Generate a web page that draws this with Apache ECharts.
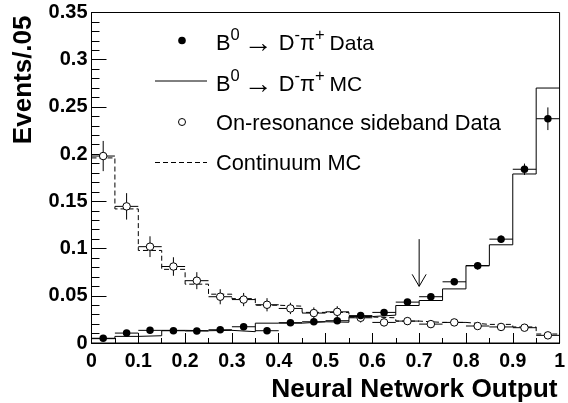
<!DOCTYPE html>
<html>
<head>
<meta charset="utf-8">
<title>Neural Network Output</title>
<script src="https://cdn.jsdelivr.net/npm/echarts@6/dist/echarts.min.js"></script>
<style>
html, body { margin: 0; padding: 0; background: #fff; }
#main { width: 568px; height: 403px; }
</style>
</head>
<body>
<div id="main"></div>
<script>
var binCenters = [0.025, 0.075, 0.125, 0.175, 0.225, 0.275, 0.325, 0.375, 0.425, 0.475, 0.525, 0.575, 0.625, 0.675, 0.725, 0.775, 0.825, 0.875, 0.925, 0.975];
var binEdges = [0, 0.05, 0.1, 0.15, 0.2, 0.25, 0.3, 0.35, 0.4, 0.45, 0.5, 0.55, 0.6, 0.65, 0.7, 0.75, 0.8, 0.85, 0.9, 0.95, 1];

var signalData = [0.005, 0.0105, 0.0134, 0.013, 0.0127, 0.014, 0.0172, 0.013, 0.0215, 0.0225, 0.0236, 0.029, 0.0324, 0.0433, 0.049, 0.0648, 0.0817, 0.11, 0.184, 0.2375];
var signalErr = [0.002, 0.002, 0.003, 0.002, 0.002, 0.002, 0.002, 0.002, 0.002, 0.002, 0.002, 0.002, 0.002, 0.003, 0.003, 0.003, 0.004, 0.004, 0.006, 0.012];
var signalMC = [0.0046, 0.007, 0.0077, 0.0134, 0.013, 0.0134, 0.012, 0.021, 0.021, 0.0225, 0.022, 0.028, 0.0295, 0.0397, 0.045, 0.0573, 0.082, 0.104, 0.179, 0.27];
var sidebandData = [0.198, 0.1447, 0.102, 0.081, 0.066, 0.049, 0.046, 0.0405, 0.0366, 0.0317, 0.033, 0.0267, 0.0218, 0.0232, 0.02, 0.0218, 0.018, 0.017, 0.0162, 0.0081];
var sidebandErr = [0.016, 0.014, 0.011, 0.0098, 0.009, 0.008, 0.007, 0.007, 0.006, 0.006, 0.006, 0.005, 0.004, 0.004, 0.004, 0.003, 0.003, 0.003, 0.003, 0.003];
var continuumMC = [0.196, 0.142, 0.098, 0.078, 0.0623, 0.0517, 0.047, 0.04, 0.039, 0.0324, 0.0324, 0.0275, 0.0267, 0.0232, 0.0218, 0.0218, 0.0197, 0.0197, 0.017, 0.0095];

var cutValue = 0.7;
var cutFrom = 0.11;
var cutTo = 0.06;
var binHalf = 0.025;

var fontName = '"Liberation Sans", Arial, sans-serif';

function histPoints(values) {
	var pts = [];
	for (var i = 0; i < binEdges.length; i++) {
		pts.push([binEdges[i], values[Math.min(i, values.length - 1)]]);
	}
	return pts;
}

function pairs(values) {
	return binCenters.map(function (x, i) { return [x, values[i]]; });
}

function errorRows(values, errs) {
	return binCenters.map(function (x, i) { return [x, values[i], errs[i]]; });
}

function renderError(params, api) {
	var x = api.value(0), y = api.value(1), e = api.value(2);
	var lineStyle = { stroke: '#000', lineWidth: 1, fill: null };
	var a = api.coord([x - binHalf, y]), b = api.coord([x + binHalf, y]);
	var c = api.coord([x, y - e]), d = api.coord([x, y + e]);
	return {
		type: 'group',
		children: [
			{ type: 'line', shape: { x1: a[0], y1: a[1], x2: b[0], y2: b[1] }, style: lineStyle },
			{ type: 'line', shape: { x1: c[0], y1: c[1], x2: d[0], y2: d[1] }, style: lineStyle }
		]
	};
}

function renderArrow(params, api) {
	var top = api.coord([api.value(0), api.value(1)]);
	var tip = api.coord([api.value(0), api.value(2)]);
	var lineStyle = { stroke: '#000', lineWidth: 1, fill: null };
	return {
		type: 'group',
		children: [
			{ type: 'line', shape: { x1: top[0], y1: top[1], x2: tip[0], y2: tip[1] }, style: lineStyle },
			{ type: 'polyline', shape: { points: [[tip[0] - 7, tip[1] - 12], tip, [tip[0] + 7, tip[1] - 12]] }, style: lineStyle }
		]
	};
}

var richStyles = {
	n: { fontFamily: fontName, fontSize: 21.8, color: '#000', verticalAlign: 'bottom', lineHeight: 30 },
	t: { fontFamily: fontName, fontSize: 21, color: '#000', verticalAlign: 'bottom', lineHeight: 30, padding: [0, 0, 0, 5] },
	sup: { fontFamily: fontName, fontSize: 16.5, color: '#000', verticalAlign: 'top', lineHeight: 22, padding: [2, 0, 0, 0] },
	arr: { fontFamily: fontName, fontSize: 29, color: '#000', verticalAlign: 'top', lineHeight: 26, padding: [4, 6, 0, 4] }
};

var decayData = '{n|B}{sup|0}{arr|\u2192}{n|D}{sup|-}{n|\u03c0}{sup|+}{t|Data}';
var decayMC = '{n|B}{sup|0}{arr|\u2192}{n|D}{sup|-}{n|\u03c0}{sup|+}{t|MC}';

function legendLabel(text, y) {
	return { type: 'text', left: 216, top: y, style: { text: text, rich: richStyles, fontFamily: fontName, fontSize: 21.8, fill: '#000' }, z: 20 };
}

var chart = echarts.init(document.getElementById('main'));
chart.setOption({
	animation: false,
	backgroundColor: '#fff',
	textStyle: { fontFamily: fontName },
	grid: { left: 91.5, right: 5.5, top: 12.5, bottom: 58.5, show: true, borderColor: '#000', borderWidth: 1, backgroundColor: 'transparent' },
	xAxis: {
		type: 'value', min: 0, max: 1, interval: 0.1, minorTick: { show: true, splitNumber: 2, length: 5, lineStyle: { color: '#000' } },
		axisLine: { onZero: false, lineStyle: { color: '#000', width: 1 } },
		axisTick: { inside: true, length: 10, lineStyle: { color: '#000' } },
		splitLine: { show: false }, minorSplitLine: { show: false },
		axisLabel: { color: '#000', fontFamily: fontName, fontWeight: 'bold', fontSize: 19.5, margin: 9 },
		name: 'Neural Network Output', nameLocation: 'end', nameGap: -2,
		nameTextStyle: { fontFamily: fontName, fontWeight: 'bold', fontSize: 26.3, color: '#000', align: 'right', verticalAlign: 'top', padding: [34, 0, 0, 0] }
	},
	yAxis: {
		type: 'value', min: 0, max: 0.35, interval: 0.05, minorTick: { show: true, splitNumber: 5, length: 8, lineStyle: { color: '#000' } },
		axisLine: { onZero: false, lineStyle: { color: '#000', width: 1 } },
		axisTick: { inside: true, length: 15, lineStyle: { color: '#000' } },
		splitLine: { show: false }, minorSplitLine: { show: false },
		axisLabel: { color: '#000', fontFamily: fontName, fontWeight: 'bold', fontSize: 20, margin: 4 },
		name: 'Events/.05', nameLocation: 'end', nameRotate: 90, nameGap: -3,
		nameTextStyle: { fontFamily: fontName, fontWeight: 'bold', fontSize: 26, color: '#000', align: 'right', verticalAlign: 'bottom', padding: [0, 0, 55, 0] }
	},
	graphic: [
		{ type: 'circle', shape: { cx: 182, cy: 40.5, r: 3.8 }, style: { fill: '#000' }, z: 20 },
		{ type: 'line', shape: { x1: 155, y1: 81, x2: 207, y2: 81 }, style: { stroke: '#000', lineWidth: 1 }, z: 20 },
		{ type: 'circle', shape: { cx: 182, cy: 122, r: 3.5 }, style: { fill: '#fff', stroke: '#000', lineWidth: 1 }, z: 20 },
		{ type: 'line', shape: { x1: 155, y1: 162.5, x2: 207, y2: 162.5 }, style: { stroke: '#000', lineWidth: 1, lineDash: [5, 3] }, z: 20 },
		legendLabel(decayData, 25),
		legendLabel(decayMC, 66),
		legendLabel('On-resonance sideband Data', 113),
		legendLabel('Continuum MC', 153)
	],
	series: [
		{
			name: 'Continuum MC', type: 'line', step: 'end', data: histPoints(continuumMC), showSymbol: false, symbol: 'none',
			lineStyle: { color: '#000', width: 1, type: [5, 3] }, z: 2
		},
		{
			name: 'B0 MC', type: 'line', step: 'end', data: histPoints(signalMC), showSymbol: false, symbol: 'none',
			lineStyle: { color: '#000', width: 1 }, z: 2
		},
		{
			name: 'Sideband errors', type: 'custom', renderItem: renderError, data: errorRows(sidebandData, sidebandErr),
			encode: { x: 0, y: 1 }, z: 3
		},
		{
			name: 'B0 errors', type: 'custom', renderItem: renderError, data: errorRows(signalData, signalErr),
			encode: { x: 0, y: 1 }, z: 3
		},
		{
			name: 'On-resonance sideband Data', type: 'scatter', data: pairs(sidebandData), symbol: 'circle', symbolSize: 7.5,
			itemStyle: { color: '#fff', borderColor: '#000', borderWidth: 1, opacity: 1 }, z: 4
		},
		{
			name: 'B0 Data', type: 'scatter', data: pairs(signalData), symbol: 'circle', symbolSize: 7.5,
			itemStyle: { color: '#000', opacity: 1 }, z: 5
		},
		{
			name: 'Cut', type: 'custom', renderItem: renderArrow, data: [[cutValue, cutFrom, cutTo]],
			encode: { x: 0, y: [1, 2] }, z: 6
		}
	]
});
</script>
</body>
</html>
